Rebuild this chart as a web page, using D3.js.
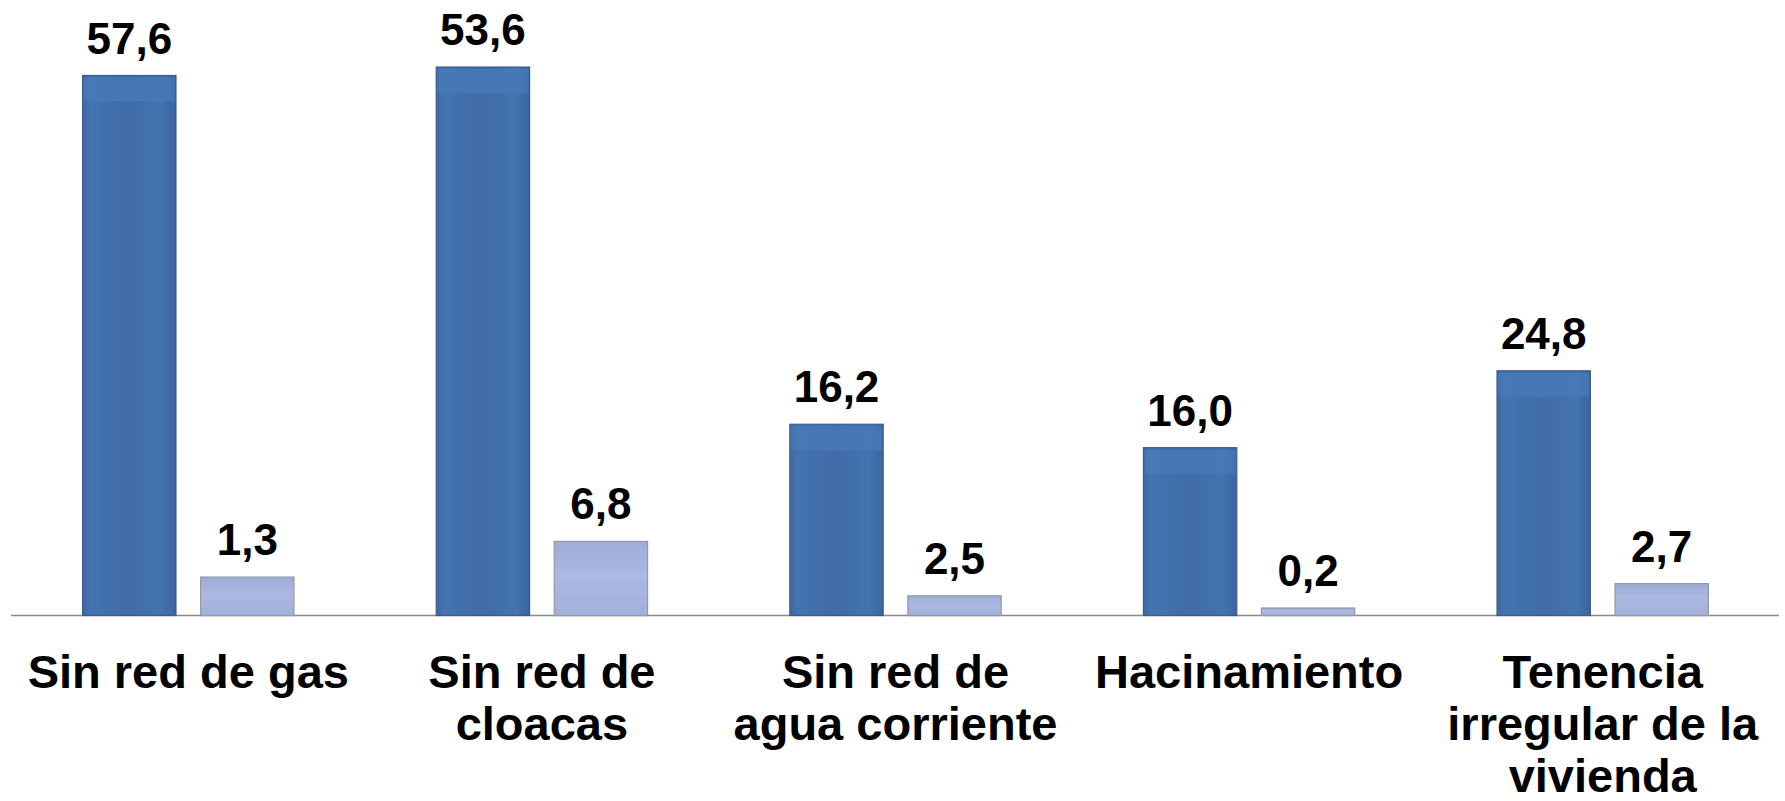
<!DOCTYPE html>
<html>
<head>
<meta charset="utf-8">
<script src="https://cdn.jsdelivr.net/npm/d3@7/dist/d3.min.js"></script>
<style>
  html, body { margin: 0; padding: 0; background: #ffffff; }
  svg { display: block; }
  text { font-family: "Liberation Sans", Arial, Helvetica, sans-serif; font-weight: bold; fill: #000; }
</style>
</head>
<body>
<svg id="chart" width="1785" height="801"></svg>
<script>
// ---- data ----
const categories = ["Sin red de gas", "Sin red de cloacas", "Sin red de agua corriente", "Hacinamiento", "Tenencia irregular de la vivienda"];
const categoryLines = [
  ["Sin red de gas"],
  ["Sin red de", "cloacas"],
  ["Sin red de", "agua corriente"],
  ["Hacinamiento"],
  ["Tenencia", "irregular de la", "vivienda"]
];
const series = ["dark", "light"];
// printed values
const darkValues = [57.6, 53.6, 16.2, 16.0, 24.8];
const lightValues = [1.3, 6.8, 2.5, 0.2, 2.7];
// bar lengths as drawn in the picture (same units)
const darkBarHeights = [57.6, 58.5, 20.4, 17.9, 26.1];
const lightBarHeights = [4.1, 7.9, 2.1, 0.8, 3.4];

// ---- layout ----
const svg = d3.select("#chart");
const baseY = 615.5;
const y = d3.scaleLinear().domain([0, 60]).range([baseY, 53]);
const x0 = d3.scaleBand().domain(categories).range([11.5, 1779.5]).paddingInner(0).paddingOuter(0);
const x1 = d3.scaleBand().domain(series).range([0, x0.bandwidth()]).paddingInner(0.209).paddingOuter(0.603);

const fmt = v => d3.format(".1f")(v).replace(".", ",");

const defs = svg.append("defs");
const gDark = defs.append("linearGradient").attr("id", "gDark").attr("x1", 0).attr("x2", 1).attr("y1", 0).attr("y2", 0);
[[0, "#3d68a3"], [0.08, "#4473b1"], [0.5, "#406ca9"], [0.85, "#4473b0"], [1, "#3a65a0"]].forEach(s =>
  gDark.append("stop").attr("offset", s[0]).attr("stop-color", s[1]));
const gLight = defs.append("linearGradient").attr("id", "gLight").attr("x1", 0).attr("x2", 0).attr("y1", 0).attr("y2", 1);
[[0, "#a0acd8"], [0.45, "#aab8e2"], [1, "#a4b0da"]].forEach(s =>
  gLight.append("stop").attr("offset", s[0]).attr("stop-color", s[1]));

const rows = categories.map((c, i) => ({
  cat: c, i,
  bars: [
    { s: "dark", v: darkValues[i], h: darkBarHeights[i] },
    { s: "light", v: lightValues[i], h: lightBarHeights[i] }
  ]
}));

// baseline
svg.append("line")
  .attr("x1", 11).attr("x2", 1779)
  .attr("y1", baseY).attr("y2", baseY)
  .attr("stroke", "#8a8a8a").attr("stroke-width", 1.5);

const groups = svg.selectAll("g.grp").data(rows).enter().append("g")
  .attr("class", "grp")
  .attr("transform", d => `translate(${x0(d.cat)},0)`);

const bar = groups.selectAll("g.bar").data(d => d.bars).enter().append("g").attr("class", "bar");

bar.append("rect")
  .attr("x", d => x1(d.s))
  .attr("width", x1.bandwidth())
  .attr("y", d => y(d.h))
  .attr("height", d => baseY - y(d.h))
  .attr("fill", d => d.s === "dark" ? "url(#gDark)" : "url(#gLight)")
  .attr("stroke", d => d.s === "dark" ? "#3b5a8a" : "#9098aa")
  .attr("stroke-width", 1.2);

// lighter top cap on dark bars
bar.filter(d => d.s === "dark").append("rect")
  .attr("x", d => x1(d.s) + 1)
  .attr("width", x1.bandwidth() - 2)
  .attr("y", d => y(d.h) + 2)
  .attr("height", 24)
  .attr("fill", "#4a80c2")
  .attr("opacity", 0.5);

bar.append("text")
  .attr("x", d => x1(d.s) + x1.bandwidth() / 2)
  .attr("y", d => y(d.h) - 22)
  .attr("text-anchor", "middle")
  .attr("font-size", 44)
  .text(d => fmt(d.v));

// category labels
groups.append("text")
  .attr("text-anchor", "middle")
  .attr("font-size", 47)
  .attr("transform", d => `translate(${x0.bandwidth() / 2},0)`)
  .selectAll("tspan").data(d => categoryLines[d.i]).enter().append("tspan")
  .attr("x", 0)
  .attr("y", (t, j) => 687.5 + j * 52)
  .text(t => t);
</script>
</body>
</html>
